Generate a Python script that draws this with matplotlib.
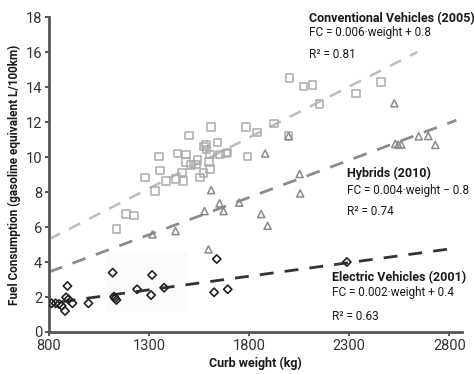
import matplotlib
matplotlib.use("Agg")
import matplotlib.pyplot as plt
from matplotlib.patches import Rectangle

plt.rcParams['font.family'] = ['Roboto', 'DejaVu Sans']

# Conventional vehicles (2005)
conv_w = [1137, 1185, 1225, 1280, 1330, 1350, 1355, 1385, 1433, 1442, 1463, 1468,
          1483, 1485, 1500, 1508, 1533, 1542, 1555, 1572, 1575, 1583, 1587, 1600,
          1603, 1605, 1610, 1642, 1655, 1683, 1692, 1783, 1792, 1838, 1925, 1997,
          2002, 2072, 2117, 2152, 2333, 2458]
conv_fc = [5.87, 6.74, 6.65, 8.83, 8.06, 10.02, 9.22, 8.62, 8.74, 10.21, 9.12, 8.62,
           10.15, 9.70, 11.22, 9.54, 9.58, 9.83, 8.83, 9.07, 10.59, 10.72, 10.44, 9.73,
           10.15, 9.31, 11.73, 10.84, 10.15, 10.21, 10.25, 11.73, 10.02, 11.41, 11.92, 11.20,
           14.53, 14.02, 14.11, 13.03, 13.64, 14.30]

# Hybrids (2010)
hyb_w = [1317, 1432, 1577, 1597, 1610, 1652, 1672, 1750, 1860, 1880, 1892, 1997,
         2052, 2055, 2525, 2530, 2545, 2560, 2647, 2695, 2730]
hyb_fc = [5.58, 5.77, 6.91, 4.72, 8.11, 7.35, 6.91, 7.39, 6.74, 10.20, 6.07, 11.20,
          9.03, 7.92, 13.07, 10.75, 10.70, 10.72, 11.18, 11.20, 10.69]

# Electric vehicles (2001)
ev_w = [813, 833, 850, 863, 880, 885, 892, 897, 917, 997, 1118, 1125, 1130, 1137,
        1240, 1310, 1315, 1375, 1625, 1638, 1693, 2288]
ev_fc = [1.64, 1.64, 1.60, 1.50, 1.20, 1.98, 2.63, 1.87, 1.64, 1.64, 3.39, 2.02, 1.92, 1.83,
         2.44, 2.11, 3.26, 2.53, 2.27, 4.17, 2.44, 4.00]

# trend line end points (weight, FC)
conv_line_w = [800, 2640]
conv_line_fc = [5.3, 16.0]
hyb_line_w = [800, 2835]
hyb_line_fc = [3.43, 12.1]
ev_line_w = [863, 2797]
ev_line_fc = [1.73, 4.74]

x_ticks = [800, 1300, 1800, 2300, 2800]
y_ticks = [0, 2, 4, 6, 8, 10, 12, 14, 16, 18]

fig = plt.figure(figsize=(4.74, 3.74), dpi=100)
ax = fig.add_axes([0.1034, 0.1123, 0.872, 0.8422])

# faint background box behind the electric points
ax.add_patch(Rectangle((1090, 1.15), 405, 3.45, color='#fbfbfb', lw=0, zorder=0))

ax.plot(conv_line_w, conv_line_fc, color='#bdbdbd', lw=1.8, dashes=(5, 4), zorder=1)
ax.plot(hyb_line_w, hyb_line_fc, color='#8c8c8c', lw=2.0, dashes=(5, 4), zorder=1)
ax.plot(ev_line_w, ev_line_fc, color='#333333', lw=2.0, dashes=(5, 4), zorder=1)

ax.scatter(conv_w, conv_fc, marker='s', s=30, facecolors='none', edgecolors='#ababab', linewidths=1.1, zorder=2)
ax.scatter(hyb_w, hyb_fc, marker='^', s=26, facecolors='none', edgecolors='#8a8a8a', linewidths=1.1, zorder=3)
ax.scatter(ev_w, ev_fc, marker='D', s=18, facecolors='none', edgecolors='#222222', linewidths=1.2, zorder=3)

tc = '#1a1a1a'
fs = 9
fe = 8.5
ax.text(2100, 17.94, "Conventional Vehicles (2005)", fontsize=fs, fontweight='bold', color=tc, va='center')
ax.text(2100, 17.14, "FC = 0.006·weight + 0.8", fontsize=fe, color=tc, va='center')
ax.text(2100, 15.83, "R² = 0.81", fontsize=fe, color=tc, va='center')

ax.text(2290, 9.09, "Hybrids (2010)", fontsize=fs, fontweight='bold', color=tc, va='center')
ax.text(2290, 8.11, "FC = 0.004·weight − 0.8", fontsize=fe, color=tc, va='center')
ax.text(2290, 6.86, "R² = 0.74", fontsize=fe, color=tc, va='center')

ax.text(2215, 3.09, "Electric Vehicles (2001)", fontsize=fs, fontweight='bold', color=tc, va='center')
ax.text(2215, 2.23, "FC = 0.002·weight + 0.4", fontsize=fe, color=tc, va='center')
ax.text(2215, 0.91, "R² = 0.63", fontsize=fe, color=tc, va='center')

ax.set_xlim(800, 2865)
ax.set_ylim(0, 18)
ax.set_xticks(x_ticks)
ax.set_yticks(y_ticks)
ax.tick_params(labelsize=10.5, colors='#333333', length=3, width=1.2, pad=2)
for s in ['top', 'right']:
    ax.spines[s].set_visible(False)
for s in ['left', 'bottom']:
    ax.spines[s].set_color('#555555')
    ax.spines[s].set_linewidth(2)

ax.set_xlabel("Curb weight (kg)", fontsize=9, fontweight='bold', color=tc, labelpad=3)
ax.set_ylabel("Fuel Consumption (gasoline equivalent L/100km)", fontsize=8.5, fontweight='bold', color=tc, labelpad=3)

fig.savefig("out.png", dpi=100)
